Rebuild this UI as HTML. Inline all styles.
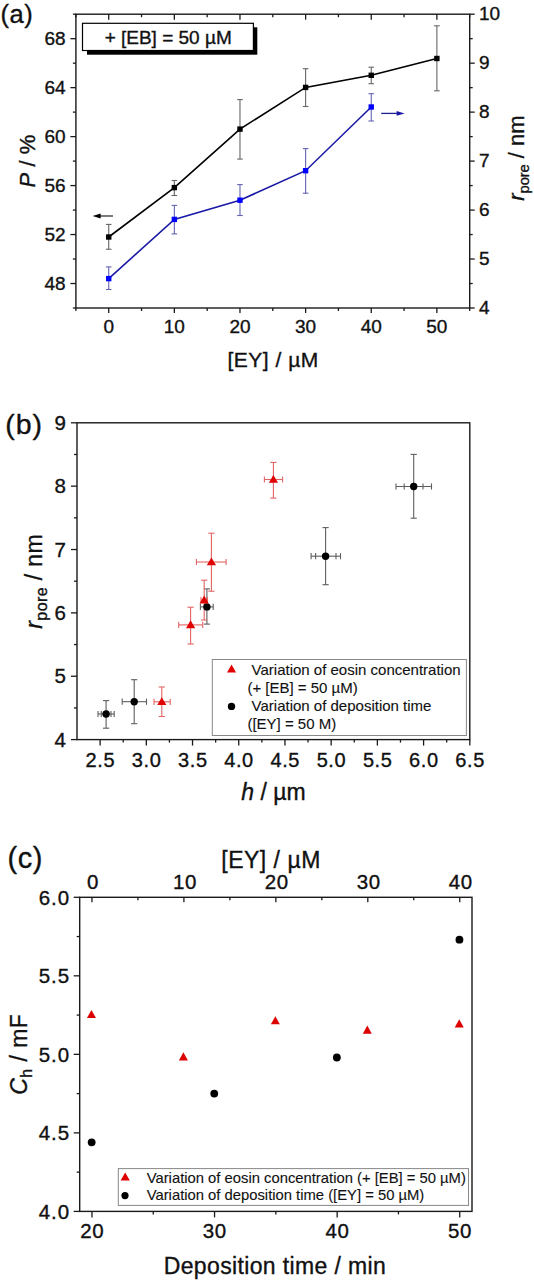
<!DOCTYPE html>
<html><head><meta charset="utf-8"><title>Figure</title>
<style>
html,body{margin:0;padding:0;background:#fff;}
body{width:534px;height:1280px;overflow:hidden;}
svg{display:block;font-family:"Liberation Sans", sans-serif;fill:#000;}
text{fill:#111;stroke:#111;stroke-width:0.35px;}
text.lg{stroke-width:0.12px;}
</style></head><body>
<svg width="534" height="1280" viewBox="0 0 534 1280">
<rect x="75.9" y="14.2" width="393.79999999999995" height="293.8" fill="none" stroke="#1a1a1a" stroke-width="1.4"/>
<line x1="108.72" y1="308.00" x2="108.72" y2="313.00" stroke="#1a1a1a" stroke-width="1.3"/>
<line x1="108.72" y1="14.20" x2="108.72" y2="19.70" stroke="#1a1a1a" stroke-width="1.3"/>
<text x="108.72" y="332.50" font-size="19" text-anchor="middle" >0</text>
<line x1="174.35" y1="308.00" x2="174.35" y2="313.00" stroke="#1a1a1a" stroke-width="1.3"/>
<line x1="174.35" y1="14.20" x2="174.35" y2="19.70" stroke="#1a1a1a" stroke-width="1.3"/>
<text x="174.35" y="332.50" font-size="19" text-anchor="middle" >10</text>
<line x1="239.98" y1="308.00" x2="239.98" y2="313.00" stroke="#1a1a1a" stroke-width="1.3"/>
<line x1="239.98" y1="14.20" x2="239.98" y2="19.70" stroke="#1a1a1a" stroke-width="1.3"/>
<text x="239.98" y="332.50" font-size="19" text-anchor="middle" >20</text>
<line x1="305.62" y1="308.00" x2="305.62" y2="313.00" stroke="#1a1a1a" stroke-width="1.3"/>
<line x1="305.62" y1="14.20" x2="305.62" y2="19.70" stroke="#1a1a1a" stroke-width="1.3"/>
<text x="305.62" y="332.50" font-size="19" text-anchor="middle" >30</text>
<line x1="371.25" y1="308.00" x2="371.25" y2="313.00" stroke="#1a1a1a" stroke-width="1.3"/>
<line x1="371.25" y1="14.20" x2="371.25" y2="19.70" stroke="#1a1a1a" stroke-width="1.3"/>
<text x="371.25" y="332.50" font-size="19" text-anchor="middle" >40</text>
<line x1="436.88" y1="308.00" x2="436.88" y2="313.00" stroke="#1a1a1a" stroke-width="1.3"/>
<line x1="436.88" y1="14.20" x2="436.88" y2="19.70" stroke="#1a1a1a" stroke-width="1.3"/>
<text x="436.88" y="332.50" font-size="19" text-anchor="middle" >50</text>
<line x1="75.90" y1="308.00" x2="75.90" y2="311.00" stroke="#1a1a1a" stroke-width="1.3"/>
<line x1="75.90" y1="14.20" x2="75.90" y2="17.20" stroke="#1a1a1a" stroke-width="1.3"/>
<line x1="141.53" y1="308.00" x2="141.53" y2="311.00" stroke="#1a1a1a" stroke-width="1.3"/>
<line x1="141.53" y1="14.20" x2="141.53" y2="17.20" stroke="#1a1a1a" stroke-width="1.3"/>
<line x1="207.17" y1="308.00" x2="207.17" y2="311.00" stroke="#1a1a1a" stroke-width="1.3"/>
<line x1="207.17" y1="14.20" x2="207.17" y2="17.20" stroke="#1a1a1a" stroke-width="1.3"/>
<line x1="272.80" y1="308.00" x2="272.80" y2="311.00" stroke="#1a1a1a" stroke-width="1.3"/>
<line x1="272.80" y1="14.20" x2="272.80" y2="17.20" stroke="#1a1a1a" stroke-width="1.3"/>
<line x1="338.43" y1="308.00" x2="338.43" y2="311.00" stroke="#1a1a1a" stroke-width="1.3"/>
<line x1="338.43" y1="14.20" x2="338.43" y2="17.20" stroke="#1a1a1a" stroke-width="1.3"/>
<line x1="404.07" y1="308.00" x2="404.07" y2="311.00" stroke="#1a1a1a" stroke-width="1.3"/>
<line x1="404.07" y1="14.20" x2="404.07" y2="17.20" stroke="#1a1a1a" stroke-width="1.3"/>
<line x1="469.70" y1="308.00" x2="469.70" y2="311.00" stroke="#1a1a1a" stroke-width="1.3"/>
<line x1="469.70" y1="14.20" x2="469.70" y2="17.20" stroke="#1a1a1a" stroke-width="1.3"/>
<line x1="70.40" y1="283.52" x2="75.90" y2="283.52" stroke="#1a1a1a" stroke-width="1.3"/>
<text x="65.60" y="289.52" font-size="19" text-anchor="end" >48</text>
<line x1="70.40" y1="234.55" x2="75.90" y2="234.55" stroke="#1a1a1a" stroke-width="1.3"/>
<text x="65.60" y="240.55" font-size="19" text-anchor="end" >52</text>
<line x1="70.40" y1="185.58" x2="75.90" y2="185.58" stroke="#1a1a1a" stroke-width="1.3"/>
<text x="65.60" y="191.58" font-size="19" text-anchor="end" >56</text>
<line x1="70.40" y1="136.62" x2="75.90" y2="136.62" stroke="#1a1a1a" stroke-width="1.3"/>
<text x="65.60" y="142.62" font-size="19" text-anchor="end" >60</text>
<line x1="70.40" y1="87.65" x2="75.90" y2="87.65" stroke="#1a1a1a" stroke-width="1.3"/>
<text x="65.60" y="93.65" font-size="19" text-anchor="end" >64</text>
<line x1="70.40" y1="38.68" x2="75.90" y2="38.68" stroke="#1a1a1a" stroke-width="1.3"/>
<text x="65.60" y="44.68" font-size="19" text-anchor="end" >68</text>
<line x1="72.90" y1="308.00" x2="75.90" y2="308.00" stroke="#1a1a1a" stroke-width="1.3"/>
<line x1="72.90" y1="259.03" x2="75.90" y2="259.03" stroke="#1a1a1a" stroke-width="1.3"/>
<line x1="72.90" y1="210.07" x2="75.90" y2="210.07" stroke="#1a1a1a" stroke-width="1.3"/>
<line x1="72.90" y1="161.10" x2="75.90" y2="161.10" stroke="#1a1a1a" stroke-width="1.3"/>
<line x1="72.90" y1="112.13" x2="75.90" y2="112.13" stroke="#1a1a1a" stroke-width="1.3"/>
<line x1="72.90" y1="63.17" x2="75.90" y2="63.17" stroke="#1a1a1a" stroke-width="1.3"/>
<line x1="72.90" y1="14.20" x2="75.90" y2="14.20" stroke="#1a1a1a" stroke-width="1.3"/>
<line x1="469.70" y1="308.00" x2="474.70" y2="308.00" stroke="#1a1a1a" stroke-width="1.3"/>
<text x="479.00" y="314.00" font-size="19" text-anchor="start" >4</text>
<line x1="469.70" y1="259.03" x2="474.70" y2="259.03" stroke="#1a1a1a" stroke-width="1.3"/>
<text x="479.00" y="265.03" font-size="19" text-anchor="start" >5</text>
<line x1="469.70" y1="210.07" x2="474.70" y2="210.07" stroke="#1a1a1a" stroke-width="1.3"/>
<text x="479.00" y="216.07" font-size="19" text-anchor="start" >6</text>
<line x1="469.70" y1="161.10" x2="474.70" y2="161.10" stroke="#1a1a1a" stroke-width="1.3"/>
<text x="479.00" y="167.10" font-size="19" text-anchor="start" >7</text>
<line x1="469.70" y1="112.13" x2="474.70" y2="112.13" stroke="#1a1a1a" stroke-width="1.3"/>
<text x="479.00" y="118.13" font-size="19" text-anchor="start" >8</text>
<line x1="469.70" y1="63.17" x2="474.70" y2="63.17" stroke="#1a1a1a" stroke-width="1.3"/>
<text x="479.00" y="69.17" font-size="19" text-anchor="start" >9</text>
<line x1="469.70" y1="14.20" x2="474.70" y2="14.20" stroke="#1a1a1a" stroke-width="1.3"/>
<text x="479.00" y="20.20" font-size="19" text-anchor="start" >10</text>
<line x1="469.70" y1="283.52" x2="472.70" y2="283.52" stroke="#1a1a1a" stroke-width="1.3"/>
<line x1="469.70" y1="234.55" x2="472.70" y2="234.55" stroke="#1a1a1a" stroke-width="1.3"/>
<line x1="469.70" y1="185.58" x2="472.70" y2="185.58" stroke="#1a1a1a" stroke-width="1.3"/>
<line x1="469.70" y1="136.62" x2="472.70" y2="136.62" stroke="#1a1a1a" stroke-width="1.3"/>
<line x1="469.70" y1="87.65" x2="472.70" y2="87.65" stroke="#1a1a1a" stroke-width="1.3"/>
<line x1="469.70" y1="38.68" x2="472.70" y2="38.68" stroke="#1a1a1a" stroke-width="1.3"/>
<text x="0.50" y="23.00" font-size="25.5" text-anchor="start" letter-spacing="0.5" >(a)</text>
<text x="273.15" y="367.00" font-size="21" text-anchor="middle" letter-spacing="0.5" >[EY] / µM</text>
<text transform="translate(35.2,161.1) rotate(-90)" font-size="22" text-anchor="middle"><tspan font-style="italic">P</tspan> / %</text>
<text transform="translate(524.2,158.1) rotate(-90)" font-size="22" text-anchor="middle"><tspan font-style="italic">r</tspan><tspan font-size="14.6" dy="4.6">pore</tspan><tspan dy="-4.6"> / nm</tspan></text>
<rect x="87" y="27.3" width="170.3" height="27.4" fill="#000"/>
<rect x="82.5" y="23.3" width="170.9" height="27.2" fill="#fff" stroke="#000" stroke-width="1.2"/>
<text x="168.20" y="44.40" font-size="19" text-anchor="middle" >+ [EB] = 50 µM</text>
<line x1="99.00" y1="216.00" x2="113.00" y2="216.00" stroke="#333" stroke-width="1.3"/>
<path d="M92.6,216 L100.6,213.6 L100.6,218.4 Z" fill="#000"/>
<line x1="381.20" y1="113.40" x2="398.00" y2="113.40" stroke="#202090" stroke-width="1.3"/>
<path d="M404.6,113.4 L396.6,111.0 L396.6,115.8 Z" fill="#1a1aa6"/>
<line x1="108.72" y1="224.40" x2="108.72" y2="249.25" stroke="#666666" stroke-width="1.1"/>
<line x1="105.92" y1="224.40" x2="111.52" y2="224.40" stroke="#666666" stroke-width="1.1"/>
<line x1="105.92" y1="249.25" x2="111.52" y2="249.25" stroke="#666666" stroke-width="1.1"/>
<line x1="174.35" y1="180.50" x2="174.35" y2="195.50" stroke="#666666" stroke-width="1.1"/>
<line x1="171.55" y1="180.50" x2="177.15" y2="180.50" stroke="#666666" stroke-width="1.1"/>
<line x1="171.55" y1="195.50" x2="177.15" y2="195.50" stroke="#666666" stroke-width="1.1"/>
<line x1="239.98" y1="99.60" x2="239.98" y2="159.10" stroke="#666666" stroke-width="1.1"/>
<line x1="237.18" y1="99.60" x2="242.78" y2="99.60" stroke="#666666" stroke-width="1.1"/>
<line x1="237.18" y1="159.10" x2="242.78" y2="159.10" stroke="#666666" stroke-width="1.1"/>
<line x1="305.62" y1="68.70" x2="305.62" y2="106.50" stroke="#666666" stroke-width="1.1"/>
<line x1="302.82" y1="68.70" x2="308.42" y2="68.70" stroke="#666666" stroke-width="1.1"/>
<line x1="302.82" y1="106.50" x2="308.42" y2="106.50" stroke="#666666" stroke-width="1.1"/>
<line x1="371.25" y1="67.20" x2="371.25" y2="83.70" stroke="#666666" stroke-width="1.1"/>
<line x1="368.45" y1="67.20" x2="374.05" y2="67.20" stroke="#666666" stroke-width="1.1"/>
<line x1="368.45" y1="83.70" x2="374.05" y2="83.70" stroke="#666666" stroke-width="1.1"/>
<line x1="436.88" y1="25.80" x2="436.88" y2="90.80" stroke="#666666" stroke-width="1.1"/>
<line x1="434.08" y1="25.80" x2="439.68" y2="25.80" stroke="#666666" stroke-width="1.1"/>
<line x1="434.08" y1="90.80" x2="439.68" y2="90.80" stroke="#666666" stroke-width="1.1"/>
<polyline fill="none" stroke="#000" stroke-width="1.6" points="108.72,237.00 174.35,187.60 239.98,129.10 305.62,87.40 371.25,75.30 436.88,58.50"/>
<rect x="106.02" y="234.30" width="5.4" height="5.4" fill="#000"/>
<rect x="171.65" y="184.90" width="5.4" height="5.4" fill="#000"/>
<rect x="237.28" y="126.40" width="5.4" height="5.4" fill="#000"/>
<rect x="302.92" y="84.70" width="5.4" height="5.4" fill="#000"/>
<rect x="368.55" y="72.60" width="5.4" height="5.4" fill="#000"/>
<rect x="434.18" y="55.80" width="5.4" height="5.4" fill="#000"/>
<line x1="108.72" y1="266.90" x2="108.72" y2="289.50" stroke="#6464b4" stroke-width="1.1"/>
<line x1="105.92" y1="266.90" x2="111.52" y2="266.90" stroke="#6464b4" stroke-width="1.1"/>
<line x1="105.92" y1="289.50" x2="111.52" y2="289.50" stroke="#6464b4" stroke-width="1.1"/>
<line x1="174.35" y1="205.40" x2="174.35" y2="233.90" stroke="#6464b4" stroke-width="1.1"/>
<line x1="171.55" y1="205.40" x2="177.15" y2="205.40" stroke="#6464b4" stroke-width="1.1"/>
<line x1="171.55" y1="233.90" x2="177.15" y2="233.90" stroke="#6464b4" stroke-width="1.1"/>
<line x1="239.98" y1="184.60" x2="239.98" y2="215.50" stroke="#6464b4" stroke-width="1.1"/>
<line x1="237.18" y1="184.60" x2="242.78" y2="184.60" stroke="#6464b4" stroke-width="1.1"/>
<line x1="237.18" y1="215.50" x2="242.78" y2="215.50" stroke="#6464b4" stroke-width="1.1"/>
<line x1="305.62" y1="148.60" x2="305.62" y2="193.20" stroke="#6464b4" stroke-width="1.1"/>
<line x1="302.82" y1="148.60" x2="308.42" y2="148.60" stroke="#6464b4" stroke-width="1.1"/>
<line x1="302.82" y1="193.20" x2="308.42" y2="193.20" stroke="#6464b4" stroke-width="1.1"/>
<line x1="371.25" y1="93.70" x2="371.25" y2="121.00" stroke="#6464b4" stroke-width="1.1"/>
<line x1="368.45" y1="93.70" x2="374.05" y2="93.70" stroke="#6464b4" stroke-width="1.1"/>
<line x1="368.45" y1="121.00" x2="374.05" y2="121.00" stroke="#6464b4" stroke-width="1.1"/>
<polyline fill="none" stroke="#1a1aa6" stroke-width="1.6" points="108.72,278.60 174.35,219.40 239.98,200.20 305.62,170.70 371.25,107.00"/>
<rect x="106.02" y="275.90" width="5.4" height="5.4" fill="#0000ff"/>
<rect x="171.65" y="216.70" width="5.4" height="5.4" fill="#0000ff"/>
<rect x="237.28" y="197.50" width="5.4" height="5.4" fill="#0000ff"/>
<rect x="302.92" y="168.00" width="5.4" height="5.4" fill="#0000ff"/>
<rect x="368.55" y="104.30" width="5.4" height="5.4" fill="#0000ff"/>
<rect x="77.0" y="422.8" width="392.8" height="316.8" fill="none" stroke="#1a1a1a" stroke-width="1.4"/>
<line x1="100.11" y1="739.60" x2="100.11" y2="745.60" stroke="#1a1a1a" stroke-width="1.3"/>
<text x="100.41" y="767.20" font-size="20" text-anchor="middle" letter-spacing="0.6" >2.5</text>
<line x1="146.32" y1="739.60" x2="146.32" y2="745.60" stroke="#1a1a1a" stroke-width="1.3"/>
<text x="146.62" y="767.20" font-size="20" text-anchor="middle" letter-spacing="0.6" >3.0</text>
<line x1="192.53" y1="739.60" x2="192.53" y2="745.60" stroke="#1a1a1a" stroke-width="1.3"/>
<text x="192.83" y="767.20" font-size="20" text-anchor="middle" letter-spacing="0.6" >3.5</text>
<line x1="238.74" y1="739.60" x2="238.74" y2="745.60" stroke="#1a1a1a" stroke-width="1.3"/>
<text x="239.04" y="767.20" font-size="20" text-anchor="middle" letter-spacing="0.6" >4.0</text>
<line x1="284.95" y1="739.60" x2="284.95" y2="745.60" stroke="#1a1a1a" stroke-width="1.3"/>
<text x="285.25" y="767.20" font-size="20" text-anchor="middle" letter-spacing="0.6" >4.5</text>
<line x1="331.16" y1="739.60" x2="331.16" y2="745.60" stroke="#1a1a1a" stroke-width="1.3"/>
<text x="331.46" y="767.20" font-size="20" text-anchor="middle" letter-spacing="0.6" >5.0</text>
<line x1="377.38" y1="739.60" x2="377.38" y2="745.60" stroke="#1a1a1a" stroke-width="1.3"/>
<text x="377.68" y="767.20" font-size="20" text-anchor="middle" letter-spacing="0.6" >5.5</text>
<line x1="423.59" y1="739.60" x2="423.59" y2="745.60" stroke="#1a1a1a" stroke-width="1.3"/>
<text x="423.89" y="767.20" font-size="20" text-anchor="middle" letter-spacing="0.6" >6.0</text>
<line x1="469.80" y1="739.60" x2="469.80" y2="745.60" stroke="#1a1a1a" stroke-width="1.3"/>
<text x="470.10" y="767.20" font-size="20" text-anchor="middle" letter-spacing="0.6" >6.5</text>
<line x1="123.21" y1="739.60" x2="123.21" y2="742.60" stroke="#1a1a1a" stroke-width="1.3"/>
<line x1="169.42" y1="739.60" x2="169.42" y2="742.60" stroke="#1a1a1a" stroke-width="1.3"/>
<line x1="215.64" y1="739.60" x2="215.64" y2="742.60" stroke="#1a1a1a" stroke-width="1.3"/>
<line x1="261.85" y1="739.60" x2="261.85" y2="742.60" stroke="#1a1a1a" stroke-width="1.3"/>
<line x1="308.06" y1="739.60" x2="308.06" y2="742.60" stroke="#1a1a1a" stroke-width="1.3"/>
<line x1="354.27" y1="739.60" x2="354.27" y2="742.60" stroke="#1a1a1a" stroke-width="1.3"/>
<line x1="400.48" y1="739.60" x2="400.48" y2="742.60" stroke="#1a1a1a" stroke-width="1.3"/>
<line x1="446.69" y1="739.60" x2="446.69" y2="742.60" stroke="#1a1a1a" stroke-width="1.3"/>
<line x1="71.00" y1="739.60" x2="77.00" y2="739.60" stroke="#1a1a1a" stroke-width="1.3"/>
<text x="65.80" y="746.80" font-size="20.5" text-anchor="end" >4</text>
<line x1="71.00" y1="676.24" x2="77.00" y2="676.24" stroke="#1a1a1a" stroke-width="1.3"/>
<text x="65.80" y="683.44" font-size="20.5" text-anchor="end" >5</text>
<line x1="71.00" y1="612.88" x2="77.00" y2="612.88" stroke="#1a1a1a" stroke-width="1.3"/>
<text x="65.80" y="620.08" font-size="20.5" text-anchor="end" >6</text>
<line x1="71.00" y1="549.52" x2="77.00" y2="549.52" stroke="#1a1a1a" stroke-width="1.3"/>
<text x="65.80" y="556.72" font-size="20.5" text-anchor="end" >7</text>
<line x1="71.00" y1="486.16" x2="77.00" y2="486.16" stroke="#1a1a1a" stroke-width="1.3"/>
<text x="65.80" y="493.36" font-size="20.5" text-anchor="end" >8</text>
<line x1="71.00" y1="422.80" x2="77.00" y2="422.80" stroke="#1a1a1a" stroke-width="1.3"/>
<text x="65.80" y="430.00" font-size="20.5" text-anchor="end" >9</text>
<line x1="74.00" y1="707.92" x2="77.00" y2="707.92" stroke="#1a1a1a" stroke-width="1.3"/>
<line x1="74.00" y1="644.56" x2="77.00" y2="644.56" stroke="#1a1a1a" stroke-width="1.3"/>
<line x1="74.00" y1="581.20" x2="77.00" y2="581.20" stroke="#1a1a1a" stroke-width="1.3"/>
<line x1="74.00" y1="517.84" x2="77.00" y2="517.84" stroke="#1a1a1a" stroke-width="1.3"/>
<line x1="74.00" y1="454.48" x2="77.00" y2="454.48" stroke="#1a1a1a" stroke-width="1.3"/>
<text x="5.20" y="434.30" font-size="28.5" text-anchor="start" letter-spacing="1" >(b)</text>
<text x="273.4" y="800" font-size="23" text-anchor="middle"><tspan font-style="italic">h</tspan> / µm</text>
<text transform="translate(41.5,581.3) rotate(-90)" font-size="23" letter-spacing="0.4" text-anchor="middle"><tspan font-style="italic">r</tspan><tspan font-size="16" dy="5">pore</tspan><tspan dy="-5"> / nm</tspan></text>
<rect x="212.3" y="659.5" width="254.1" height="76" fill="#fff" stroke="#888" stroke-width="1"/>
<path d="M231.5,664.6 L236,672.6 L227,672.6 Z" fill="#e00000"/>
<circle cx="231.5" cy="706.4" r="3.7" fill="#000"/>
<text x="251.60" y="674.80" font-size="15" text-anchor="start" class="lg">Variation of eosin concentration</text>
<text x="247.40" y="693.30" font-size="15" text-anchor="start" class="lg">(+ [EB] = 50 µM)</text>
<text x="251.60" y="710.80" font-size="15" text-anchor="start" class="lg">Variation of deposition time</text>
<text x="247.40" y="728.70" font-size="15" text-anchor="start" class="lg">([EY] = 50 M)</text>
<line x1="106.10" y1="700.60" x2="106.10" y2="728.20" stroke="#5e5e5e" stroke-width="1.1"/>
<line x1="103.00" y1="700.60" x2="109.20" y2="700.60" stroke="#5e5e5e" stroke-width="1.1"/>
<line x1="103.00" y1="728.20" x2="109.20" y2="728.20" stroke="#5e5e5e" stroke-width="1.1"/>
<line x1="98.00" y1="714.00" x2="114.20" y2="714.00" stroke="#5e5e5e" stroke-width="1.1"/>
<line x1="98.00" y1="710.90" x2="98.00" y2="717.10" stroke="#5e5e5e" stroke-width="1.1"/>
<line x1="114.20" y1="710.90" x2="114.20" y2="717.10" stroke="#5e5e5e" stroke-width="1.1"/>
<line x1="101.30" y1="710.90" x2="101.30" y2="717.10" stroke="#5e5e5e" stroke-width="1.1"/>
<line x1="111.00" y1="710.90" x2="111.00" y2="717.10" stroke="#5e5e5e" stroke-width="1.1"/>
<line x1="134.20" y1="679.70" x2="134.20" y2="723.70" stroke="#5e5e5e" stroke-width="1.1"/>
<line x1="131.10" y1="679.70" x2="137.30" y2="679.70" stroke="#5e5e5e" stroke-width="1.1"/>
<line x1="131.10" y1="723.70" x2="137.30" y2="723.70" stroke="#5e5e5e" stroke-width="1.1"/>
<line x1="122.20" y1="701.70" x2="146.50" y2="701.70" stroke="#5e5e5e" stroke-width="1.1"/>
<line x1="122.20" y1="698.60" x2="122.20" y2="704.80" stroke="#5e5e5e" stroke-width="1.1"/>
<line x1="146.50" y1="698.60" x2="146.50" y2="704.80" stroke="#5e5e5e" stroke-width="1.1"/>
<line x1="206.90" y1="588.90" x2="206.90" y2="624.10" stroke="#5e5e5e" stroke-width="1.1"/>
<line x1="203.80" y1="588.90" x2="210.00" y2="588.90" stroke="#5e5e5e" stroke-width="1.1"/>
<line x1="203.80" y1="624.10" x2="210.00" y2="624.10" stroke="#5e5e5e" stroke-width="1.1"/>
<line x1="200.40" y1="606.90" x2="213.20" y2="606.90" stroke="#5e5e5e" stroke-width="1.1"/>
<line x1="200.40" y1="603.80" x2="200.40" y2="610.00" stroke="#5e5e5e" stroke-width="1.1"/>
<line x1="213.20" y1="603.80" x2="213.20" y2="610.00" stroke="#5e5e5e" stroke-width="1.1"/>
<line x1="325.60" y1="527.60" x2="325.60" y2="584.70" stroke="#5e5e5e" stroke-width="1.1"/>
<line x1="322.50" y1="527.60" x2="328.70" y2="527.60" stroke="#5e5e5e" stroke-width="1.1"/>
<line x1="322.50" y1="584.70" x2="328.70" y2="584.70" stroke="#5e5e5e" stroke-width="1.1"/>
<line x1="311.10" y1="556.20" x2="340.50" y2="556.20" stroke="#5e5e5e" stroke-width="1.1"/>
<line x1="311.10" y1="553.10" x2="311.10" y2="559.30" stroke="#5e5e5e" stroke-width="1.1"/>
<line x1="340.50" y1="553.10" x2="340.50" y2="559.30" stroke="#5e5e5e" stroke-width="1.1"/>
<line x1="315.60" y1="553.10" x2="315.60" y2="559.30" stroke="#5e5e5e" stroke-width="1.1"/>
<line x1="336.00" y1="553.10" x2="336.00" y2="559.30" stroke="#5e5e5e" stroke-width="1.1"/>
<line x1="413.70" y1="454.40" x2="413.70" y2="518.20" stroke="#5e5e5e" stroke-width="1.1"/>
<line x1="410.60" y1="454.40" x2="416.80" y2="454.40" stroke="#5e5e5e" stroke-width="1.1"/>
<line x1="410.60" y1="518.20" x2="416.80" y2="518.20" stroke="#5e5e5e" stroke-width="1.1"/>
<line x1="396.00" y1="486.50" x2="431.50" y2="486.50" stroke="#5e5e5e" stroke-width="1.1"/>
<line x1="396.00" y1="483.40" x2="396.00" y2="489.60" stroke="#5e5e5e" stroke-width="1.1"/>
<line x1="431.50" y1="483.40" x2="431.50" y2="489.60" stroke="#5e5e5e" stroke-width="1.1"/>
<line x1="404.20" y1="483.40" x2="404.20" y2="489.60" stroke="#5e5e5e" stroke-width="1.1"/>
<line x1="423.00" y1="483.40" x2="423.00" y2="489.60" stroke="#5e5e5e" stroke-width="1.1"/>
<line x1="161.80" y1="687.00" x2="161.80" y2="716.50" stroke="#e26464" stroke-width="1.1"/>
<line x1="158.70" y1="687.00" x2="164.90" y2="687.00" stroke="#e26464" stroke-width="1.1"/>
<line x1="158.70" y1="716.50" x2="164.90" y2="716.50" stroke="#e26464" stroke-width="1.1"/>
<line x1="154.00" y1="701.80" x2="170.20" y2="701.80" stroke="#e26464" stroke-width="1.1"/>
<line x1="154.00" y1="698.70" x2="154.00" y2="704.90" stroke="#e26464" stroke-width="1.1"/>
<line x1="170.20" y1="698.70" x2="170.20" y2="704.90" stroke="#e26464" stroke-width="1.1"/>
<line x1="190.60" y1="607.20" x2="190.60" y2="644.00" stroke="#e26464" stroke-width="1.1"/>
<line x1="187.50" y1="607.20" x2="193.70" y2="607.20" stroke="#e26464" stroke-width="1.1"/>
<line x1="187.50" y1="644.00" x2="193.70" y2="644.00" stroke="#e26464" stroke-width="1.1"/>
<line x1="178.70" y1="624.90" x2="202.70" y2="624.90" stroke="#e26464" stroke-width="1.1"/>
<line x1="178.70" y1="621.80" x2="178.70" y2="628.00" stroke="#e26464" stroke-width="1.1"/>
<line x1="202.70" y1="621.80" x2="202.70" y2="628.00" stroke="#e26464" stroke-width="1.1"/>
<line x1="204.20" y1="580.20" x2="204.20" y2="620.00" stroke="#e26464" stroke-width="1.1"/>
<line x1="201.10" y1="580.20" x2="207.30" y2="580.20" stroke="#e26464" stroke-width="1.1"/>
<line x1="201.10" y1="620.00" x2="207.30" y2="620.00" stroke="#e26464" stroke-width="1.1"/>
<line x1="201.00" y1="600.10" x2="207.40" y2="600.10" stroke="#e26464" stroke-width="1.1"/>
<line x1="201.00" y1="597.00" x2="201.00" y2="603.20" stroke="#e26464" stroke-width="1.1"/>
<line x1="207.40" y1="597.00" x2="207.40" y2="603.20" stroke="#e26464" stroke-width="1.1"/>
<line x1="211.40" y1="533.20" x2="211.40" y2="591.20" stroke="#e26464" stroke-width="1.1"/>
<line x1="208.30" y1="533.20" x2="214.50" y2="533.20" stroke="#e26464" stroke-width="1.1"/>
<line x1="208.30" y1="591.20" x2="214.50" y2="591.20" stroke="#e26464" stroke-width="1.1"/>
<line x1="196.40" y1="562.00" x2="226.10" y2="562.00" stroke="#e26464" stroke-width="1.1"/>
<line x1="196.40" y1="558.90" x2="196.40" y2="565.10" stroke="#e26464" stroke-width="1.1"/>
<line x1="226.10" y1="558.90" x2="226.10" y2="565.10" stroke="#e26464" stroke-width="1.1"/>
<line x1="273.40" y1="462.40" x2="273.40" y2="498.10" stroke="#e26464" stroke-width="1.1"/>
<line x1="270.30" y1="462.40" x2="276.50" y2="462.40" stroke="#e26464" stroke-width="1.1"/>
<line x1="270.30" y1="498.10" x2="276.50" y2="498.10" stroke="#e26464" stroke-width="1.1"/>
<line x1="264.40" y1="479.50" x2="282.60" y2="479.50" stroke="#e26464" stroke-width="1.1"/>
<line x1="264.40" y1="476.40" x2="264.40" y2="482.60" stroke="#e26464" stroke-width="1.1"/>
<line x1="282.60" y1="476.40" x2="282.60" y2="482.60" stroke="#e26464" stroke-width="1.1"/>
<circle cx="106.1" cy="714.0" r="3.7" fill="#000"/>
<circle cx="134.2" cy="701.7" r="3.7" fill="#000"/>
<circle cx="206.9" cy="606.9" r="3.7" fill="#000"/>
<circle cx="325.6" cy="556.2" r="3.7" fill="#000"/>
<circle cx="413.7" cy="486.5" r="3.7" fill="#000"/>
<path d="M161.8,697.1999999999999 L166.4,705.0999999999999 L157.20000000000002,705.0999999999999 Z" fill="#e00000"/>
<path d="M190.6,620.3 L195.2,628.1999999999999 L186.0,628.1999999999999 Z" fill="#e00000"/>
<path d="M204.2,595.5 L208.79999999999998,603.4 L199.6,603.4 Z" fill="#e00000"/>
<path d="M211.4,557.4 L216.0,565.3 L206.8,565.3 Z" fill="#e00000"/>
<path d="M273.4,474.9 L278.0,482.8 L268.79999999999995,482.8 Z" fill="#e00000"/>
<rect x="79.7" y="897.3" width="392.3" height="314.10000000000014" fill="none" stroke="#1a1a1a" stroke-width="1.4"/>
<line x1="91.96" y1="1211.40" x2="91.96" y2="1217.40" stroke="#1a1a1a" stroke-width="1.3"/>
<text x="92.26" y="1238.40" font-size="20.5" text-anchor="middle" letter-spacing="0.6" >20</text>
<line x1="214.55" y1="1211.40" x2="214.55" y2="1217.40" stroke="#1a1a1a" stroke-width="1.3"/>
<text x="214.85" y="1238.40" font-size="20.5" text-anchor="middle" letter-spacing="0.6" >30</text>
<line x1="337.15" y1="1211.40" x2="337.15" y2="1217.40" stroke="#1a1a1a" stroke-width="1.3"/>
<text x="337.45" y="1238.40" font-size="20.5" text-anchor="middle" letter-spacing="0.6" >40</text>
<line x1="459.74" y1="1211.40" x2="459.74" y2="1217.40" stroke="#1a1a1a" stroke-width="1.3"/>
<text x="460.04" y="1238.40" font-size="20.5" text-anchor="middle" letter-spacing="0.6" >50</text>
<line x1="153.26" y1="1211.40" x2="153.26" y2="1214.40" stroke="#1a1a1a" stroke-width="1.3"/>
<line x1="275.85" y1="1211.40" x2="275.85" y2="1214.40" stroke="#1a1a1a" stroke-width="1.3"/>
<line x1="398.44" y1="1211.40" x2="398.44" y2="1214.40" stroke="#1a1a1a" stroke-width="1.3"/>
<line x1="91.96" y1="897.30" x2="91.96" y2="902.30" stroke="#1a1a1a" stroke-width="1.3"/>
<text x="92.96" y="889.00" font-size="20.5" text-anchor="middle" letter-spacing="0.6" >0</text>
<line x1="183.90" y1="897.30" x2="183.90" y2="902.30" stroke="#1a1a1a" stroke-width="1.3"/>
<text x="184.90" y="889.00" font-size="20.5" text-anchor="middle" letter-spacing="0.6" >10</text>
<line x1="275.85" y1="897.30" x2="275.85" y2="902.30" stroke="#1a1a1a" stroke-width="1.3"/>
<text x="276.85" y="889.00" font-size="20.5" text-anchor="middle" letter-spacing="0.6" >20</text>
<line x1="367.80" y1="897.30" x2="367.80" y2="902.30" stroke="#1a1a1a" stroke-width="1.3"/>
<text x="368.80" y="889.00" font-size="20.5" text-anchor="middle" letter-spacing="0.6" >30</text>
<line x1="459.74" y1="897.30" x2="459.74" y2="902.30" stroke="#1a1a1a" stroke-width="1.3"/>
<text x="460.74" y="889.00" font-size="20.5" text-anchor="middle" letter-spacing="0.6" >40</text>
<line x1="137.93" y1="897.30" x2="137.93" y2="900.30" stroke="#1a1a1a" stroke-width="1.3"/>
<line x1="229.88" y1="897.30" x2="229.88" y2="900.30" stroke="#1a1a1a" stroke-width="1.3"/>
<line x1="321.82" y1="897.30" x2="321.82" y2="900.30" stroke="#1a1a1a" stroke-width="1.3"/>
<line x1="413.77" y1="897.30" x2="413.77" y2="900.30" stroke="#1a1a1a" stroke-width="1.3"/>
<line x1="73.70" y1="1211.40" x2="79.70" y2="1211.40" stroke="#1a1a1a" stroke-width="1.3"/>
<text x="70.00" y="1218.60" font-size="20.5" text-anchor="end" letter-spacing="0.9" >4.0</text>
<line x1="73.70" y1="1132.88" x2="79.70" y2="1132.88" stroke="#1a1a1a" stroke-width="1.3"/>
<text x="70.00" y="1140.08" font-size="20.5" text-anchor="end" letter-spacing="0.9" >4.5</text>
<line x1="73.70" y1="1054.35" x2="79.70" y2="1054.35" stroke="#1a1a1a" stroke-width="1.3"/>
<text x="70.00" y="1061.55" font-size="20.5" text-anchor="end" letter-spacing="0.9" >5.0</text>
<line x1="73.70" y1="975.83" x2="79.70" y2="975.83" stroke="#1a1a1a" stroke-width="1.3"/>
<text x="70.00" y="983.03" font-size="20.5" text-anchor="end" letter-spacing="0.9" >5.5</text>
<line x1="73.70" y1="897.30" x2="79.70" y2="897.30" stroke="#1a1a1a" stroke-width="1.3"/>
<text x="70.00" y="904.50" font-size="20.5" text-anchor="end" letter-spacing="0.9" >6.0</text>
<line x1="76.70" y1="1172.14" x2="79.70" y2="1172.14" stroke="#1a1a1a" stroke-width="1.3"/>
<line x1="76.70" y1="1093.61" x2="79.70" y2="1093.61" stroke="#1a1a1a" stroke-width="1.3"/>
<line x1="76.70" y1="1015.09" x2="79.70" y2="1015.09" stroke="#1a1a1a" stroke-width="1.3"/>
<line x1="76.70" y1="936.56" x2="79.70" y2="936.56" stroke="#1a1a1a" stroke-width="1.3"/>
<text x="7.60" y="868.00" font-size="29" text-anchor="start" letter-spacing="0.5" >(c)</text>
<text x="274.88" y="1273.60" font-size="23" text-anchor="middle" letter-spacing="0.36" >Deposition time / min</text>
<text x="271.05" y="868.00" font-size="23" text-anchor="middle" letter-spacing="0.5" >[EY] / µM</text>
<text transform="translate(26.9,1054.2) rotate(-90)" font-size="23" letter-spacing="0.45" text-anchor="middle"><tspan font-style="italic">C</tspan><tspan font-size="16" dy="5">h</tspan><tspan dy="-5"> / mF</tspan></text>
<rect x="118.3" y="1168.6" width="350.2" height="36.8" fill="#fff" stroke="#888" stroke-width="1"/>
<path d="M125.2,1172.4 L129.8,1180.6 L120.6,1180.6 Z" fill="#e00000"/>
<circle cx="125" cy="1195.6" r="3.6" fill="#000"/>
<text x="146.70" y="1183.10" font-size="14.8" text-anchor="start" class="lg">Variation of eosin concentration (+ [EB] = 50 µM)</text>
<text x="146.70" y="1200.20" font-size="14.8" text-anchor="start" class="lg">Variation of deposition time ([EY] = 50 µM)</text>
<path d="M91.46,1009.89 L95.96,1017.99 L86.96,1017.99 Z" fill="#dc0000"/>
<path d="M183.40,1052.29 L187.90,1060.39 L178.90,1060.39 Z" fill="#dc0000"/>
<path d="M275.35,1016.17 L279.85,1024.27 L270.85,1024.27 Z" fill="#dc0000"/>
<path d="M367.30,1025.59 L371.80,1033.69 L362.80,1033.69 Z" fill="#dc0000"/>
<path d="M459.24,1019.31 L463.74,1027.41 L454.74,1027.41 Z" fill="#dc0000"/>
<circle cx="91.66" cy="1142.30" r="3.9" fill="#000"/>
<circle cx="214.25" cy="1093.61" r="3.9" fill="#000"/>
<circle cx="336.85" cy="1057.49" r="3.9" fill="#000"/>
<circle cx="459.44" cy="939.70" r="3.9" fill="#000"/>
</svg>
</body></html>
